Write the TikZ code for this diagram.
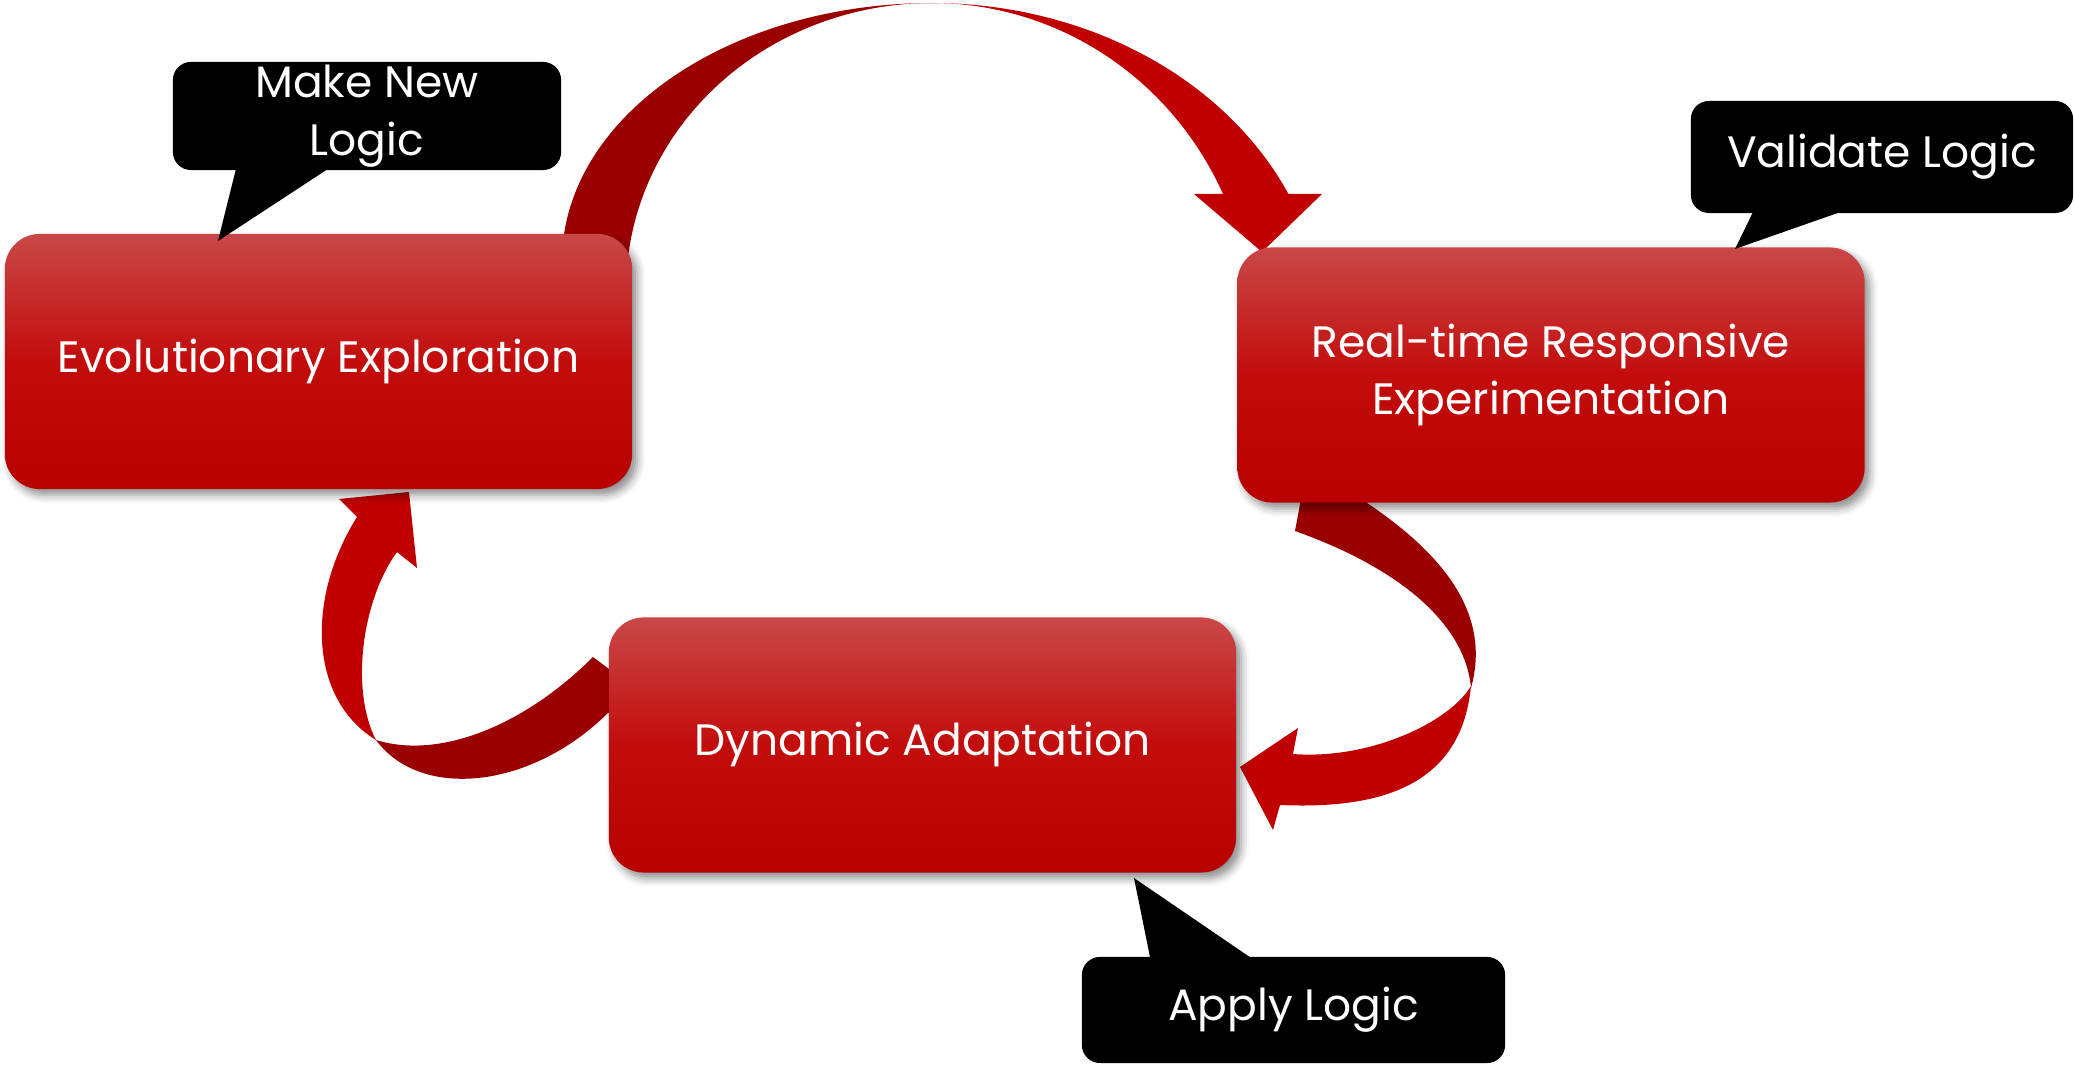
\documentclass[tikz,border=0pt]{standalone}
\usepackage{fontspec}
\setmainfont{Poppins}
\usetikzlibrary{shadows.blur}

\definecolor{ribbonred}{RGB}{192,0,0}
\definecolor{ribbondark}{RGB}{154,0,0}
\definecolor{boxtop}{RGB}{201,72,72}
\definecolor{boxmid}{RGB}{195,12,12}
\definecolor{boxbot}{RGB}{184,0,0}

\tikzset{
  stagebox/.style={rectangle, rounded corners=0.35cm,
    minimum width=6.27cm, minimum height=2.55cm, inner sep=0pt,
    top color=boxtop, bottom color=boxbot, middle color=boxmid,
    text=white, align=center, font=\fontsize{12.5}{16.2}\selectfont,
    blur shadow={shadow xshift=0.05cm, shadow yshift=-0.06cm,
      shadow blur radius=0.08cm, shadow opacity=45}},
  callout/.style={rectangle, rounded corners=0.18cm, fill=black,
    inner sep=0pt, text=white, align=center,
    font=\fontsize{12.5}{16.5}\selectfont},
  ribbonfront/.style={fill=ribbonred},
  ribbonback/.style={fill=ribbondark},
}

\begin{document}
\begin{tikzpicture}[x=0.01cm, y=-0.01cm]
\useasboundingbox (0,0) rectangle (2074,1065);

% --- top ribbon arrow: Evolutionary Exploration -> Real-time Responsive Experimentation
\fill[ribbonfront]
  plot[domain=268:335.4, samples=60] ({932+392*cos(\x)}, {330+327*sin(\x)})
  -- (1322,194) -- (1262,252) -- (1194,194)
  -- plot[domain=335.4:268, samples=60] ({932+320*cos(\x)}, {330+327*sin(\x)})
  -- cycle;
\fill[ribbonback]
  plot[domain=176:271, samples=60] ({932+370*cos(\x)}, {261+258*sin(\x)})
  -- plot[domain=271:176, samples=60] ({932+306*cos(\x)}, {290+287*sin(\x)})
  -- cycle;

% --- right ribbon arrow: Real-time Responsive Experimentation -> Dynamic Adaptation
\fill[ribbonback]
  (1304,483) -- (1295,531)
  .. controls (1410,572) and (1466,630) .. (1471,688)
  .. controls (1490,620) and (1452,560) .. (1367,503)
  -- (1338,483) -- cycle;
\fill[ribbonfront]
  (1471,686) .. controls (1462,780) and (1390,810) .. (1280,805)
  -- (1273,830) -- (1240,767) -- (1298,728) -- (1293,754)
  .. controls (1370,760) and (1450,722) .. (1471,686)
  -- cycle;

% --- left ribbon arrow: Dynamic Adaptation -> Evolutionary Exploration
\fill[ribbonback]
  (376,740) .. controls (440,760) and (525,725) .. (593,657)
  -- (609,669) -- (630,680) -- (630,705) -- (608,713)
  .. controls (530,790) and (420,800) .. (376,740)
  -- cycle;
\fill[ribbonfront]
  (357,517) .. controls (305,600) and (310,700) .. (376,740)
  .. controls (350,690) and (362,600) .. (397,552)
  -- (417,568) -- (409,492) -- (339,499)
  -- cycle;

% --- stage boxes
\node[stagebox] (explore) at (318.5,361.5) {Evolutionary Exploration};
\node[stagebox] (experiment) at (1551,375) {Real-time Responsive\\Experimentation};
\node[stagebox] (adapt) at (922.5,745) {Dynamic Adaptation};

% --- callouts
\node[callout, minimum width=3.88cm, minimum height=1.08cm] (make) at (367,116)
  {Make New\\Logic};
\fill (237,165) -- (218,241) -- (334,165) -- cycle;

\node[callout, minimum width=3.82cm, minimum height=1.12cm] (validate) at (1882,157)
  {Validate Logic};
\fill (1755,208) -- (1735,249) -- (1852,208) -- cycle;

\node[callout, minimum width=4.23cm, minimum height=1.06cm] (apply) at (1293.5,1010)
  {Apply Logic};
\fill (1151,962) -- (1134,878) -- (1257,962) -- cycle;
\end{tikzpicture}
\end{document}
